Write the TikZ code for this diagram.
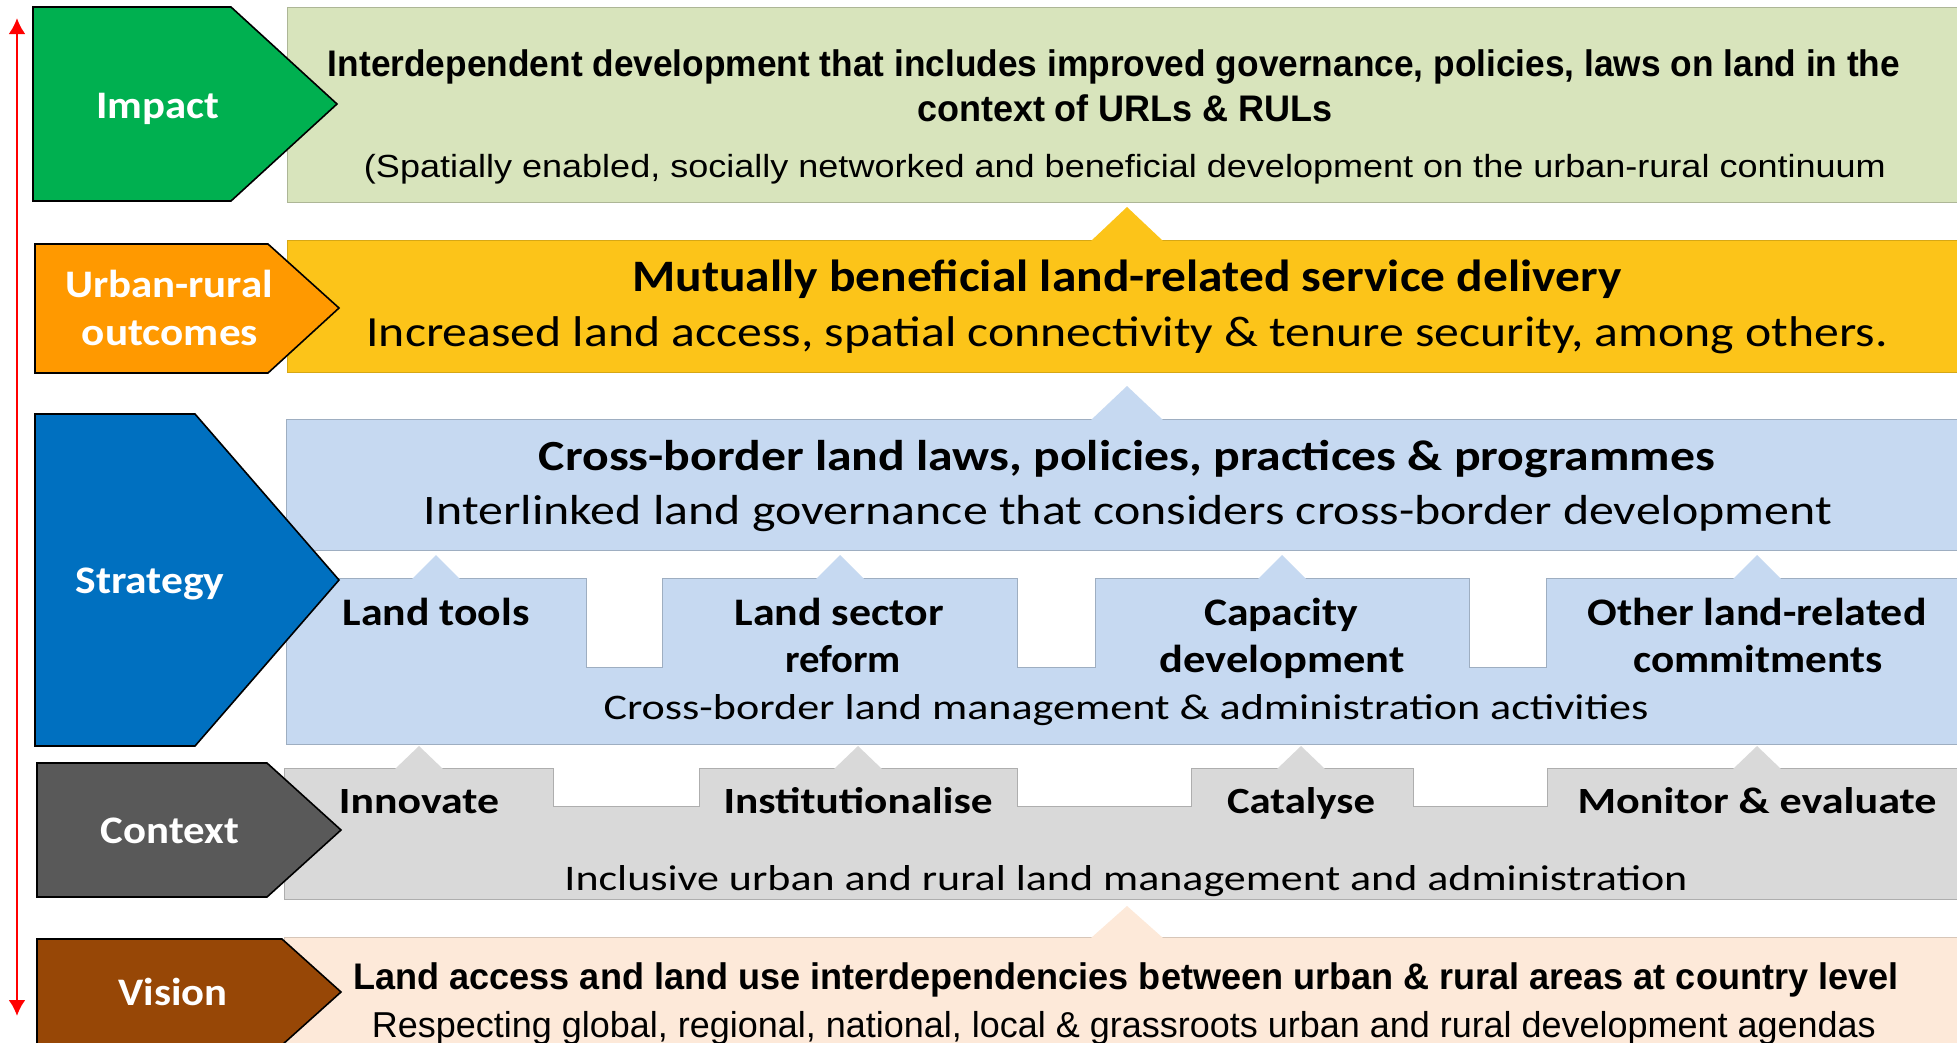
\documentclass[tikz,border=0pt]{standalone}
\usepackage{fontspec}
\usepackage{graphicx}
\usetikzlibrary{arrows.meta}
\setmainfont{Liberation Sans}
\newfontfamily\calfont{Carlito}
\newfontfamily\arlfont{Liberation Sans}
\newcommand{\fitw}[2]{\resizebox{#1pt}{\height}{#2}}
\newcommand{\calB}[1]{\calfont\bfseries\fontsize{#1}{#1}\selectfont}
\newcommand{\calR}[1]{\calfont\fontsize{#1}{#1}\selectfont}
\newcommand{\arlB}[1]{\arlfont\bfseries\fontsize{#1}{#1}\selectfont}
\newcommand{\arlR}[1]{\arlfont\fontsize{#1}{#1}\selectfont}
\definecolor{gImp}{HTML}{00B050}
\definecolor{oUR}{HTML}{FF9900}
\definecolor{bStr}{HTML}{0070C0}
\definecolor{gCtx}{HTML}{595959}
\definecolor{brVis}{HTML}{974706}
\definecolor{lGreen}{HTML}{D8E4BC}
\definecolor{lYellow}{HTML}{FCC419}
\definecolor{lBlue}{HTML}{C6D9F1}
\definecolor{lGray}{HTML}{D9D9D9}
\definecolor{lPeach}{HTML}{FDE9D9}
\tikzset{
  lbl/.style={text=white, inner sep=0pt, anchor=base},
  txt/.style={text=black, inner sep=0pt, anchor=base},
  pent/.style={draw=black, line width=1.6pt, line join=miter},
  band/.style={line width=1pt},
  redarrow/.style={draw=red, line width=2.6pt, {Latex[length=16pt,width=17pt]}-{Latex[length=16pt,width=17pt]}}
}
\begin{document}
\begin{tikzpicture}[x=1pt,y=-1pt]
\useasboundingbox (0,0) rectangle (1957,1042);
\fill[white] (0,0) rectangle (1957,1042);

% ---------- bands ----------
\draw[band, fill=lGreen, draw=lGreen!80!black] (287,7) rectangle (1962,202);
\draw[band, fill=lYellow, draw=lYellow!85!black] (287,240) rectangle (1962,372);
\fill[lYellow] (1091,241) -- (1127,207) -- (1163,241) -- cycle;
\draw[band, fill=lBlue, draw=lBlue!80!black] (286,419) rectangle (1962,550);
\fill[lBlue] (1091,420) -- (1127,386) -- (1163,420) -- cycle;
\draw[band, fill=lBlue, draw=lBlue!80!black]
  (286,578) -- (586,578) -- (586,667) -- (662,667) -- (662,578) -- (1017,578)
  -- (1017,667) -- (1095,667) -- (1095,578) -- (1469,578) -- (1469,667)
  -- (1546,667) -- (1546,578) -- (1962,578) -- (1962,744) -- (286,744) -- cycle;
\foreach \x in {436,840,1282,1757}
  \fill[lBlue] (\x-24,579) -- (\x,555) -- (\x+24,579) -- cycle;
\draw[band, fill=lGray, draw=lGray!80!black]
  (284,768) -- (553,768) -- (553,806) -- (699,806) -- (699,768) -- (1017,768)
  -- (1017,806) -- (1191,806) -- (1191,768) -- (1413,768) -- (1413,806)
  -- (1547,806) -- (1547,768) -- (1962,768) -- (1962,899) -- (284,899) -- cycle;
\foreach \x in {419,858,1301,1757}
  \fill[lGray] (\x-24,769) -- (\x,746) -- (\x+24,769) -- cycle;
\draw[band, fill=lPeach, draw=lPeach!85!black] (284,937) rectangle (1962,1050);
\fill[lPeach] (1091,938) -- (1127,906) -- (1163,938) -- cycle;

% ---------- left pentagons ----------
\draw[pent, fill=gImp] (33,7) -- (231,7) -- (337,104) -- (231,201) -- (33,201) -- cycle;
\draw[pent, fill=oUR] (35,244) -- (268,244) -- (339,308) -- (268,373) -- (35,373) -- cycle;
\draw[pent, fill=bStr] (35,414) -- (195,414) -- (339,580) -- (195,746) -- (35,746) -- cycle;
\draw[pent, fill=gCtx] (37,763) -- (267,763) -- (341,830) -- (267,897) -- (37,897) -- cycle;
\draw[pent, fill=brVis] (37,939) -- (282,939) -- (341,992) -- (282,1045) -- (37,1045) -- cycle;

\node[lbl, font=\calB{39}] (limpact) at (158,118) {\fitw{123}{Impact}};
\node[lbl, font=\calB{39}] (lurban) at (169,297) {\fitw{208}{Urban-rural}};
\node[lbl, font=\calB{39}] (lout) at (170,345) {\fitw{176}{outcomes}};
\node[lbl, font=\calB{39}] (lstrat) at (150,593) {\fitw{149}{Strategy}};
\node[lbl, font=\calB{39}] (lctx) at (170,843) {\fitw{138}{Context}};
\node[lbl, font=\calB{39}] (lvis) at (173,1005) {\fitw{109}{Vision}};

% ---------- impact texts ----------
\node[txt, font=\arlB{37}] (imp1) at (1114,76) {\fitw{1572}{Interdependent development that includes improved governance, policies, laws on land in the}};
\node[txt, font=\arlB{37}] (imp2) at (1125,121) {\fitw{416}{context of URLs \& RULs}};
\node[txt, font=\arlR{32}] (imp3) at (1125,177) {\fitw{1522}{(Spatially enabled, socially networked and beneficial development on the urban-rural continuum}};

% ---------- outcomes texts ----------
\node[txt, font=\calB{45}] (out1) at (1127,291) {\fitw{989}{Mutually beneficial land-related service delivery}};
\node[txt, font=\calR{43}] (out2) at (1127,346) {\fitw{1521}{Increased land access, spatial connectivity \& tenure security, among others.}};

% ---------- strategy texts ----------
\node[txt, font=\calB{43}] (str1) at (1127,470) {\fitw{1176}{Cross-border land laws, policies, practices \& programmes}};
\node[txt, font=\calR{42}] (str2) at (1128,524) {\fitw{1408}{Interlinked land governance that considers cross-border development}};
\node[txt, font=\calB{39}] (tab1) at (436,625) {\fitw{187}{Land tools}};
\node[txt, font=\calB{39}] (tab2a) at (839,625) {\fitw{209}{Land sector}};
\node[txt, font=\calB{39}] (tab2b) at (843,672) {\fitw{116}{reform}};
\node[txt, font=\calB{39}] (tab3a) at (1281,625) {\fitw{154}{Capacity}};
\node[txt, font=\calB{39}] (tab3b) at (1282,672) {\fitw{245}{development}};
\node[txt, font=\calB{39}] (tab4a) at (1757,625) {\fitw{339}{Other land-related}};
\node[txt, font=\calB{39}] (tab4b) at (1758,672) {\fitw{249}{commitments}};
\node[txt, font=\calR{36}] (str3) at (1126,719) {\fitw{1045}{Cross-border land management \& administration activities}};

% ---------- context texts ----------
\node[txt, font=\calB{37}] (ctx1) at (419,813) {\fitw{160}{Innovate}};
\node[txt, font=\calB{37}] (ctx2) at (858,813) {\fitw{269}{Institutionalise}};
\node[txt, font=\calB{37}] (ctx3) at (1301,813) {\fitw{148}{Catalyse}};
\node[txt, font=\calB{37}] (ctx4) at (1757,813) {\fitw{359}{Monitor \& evaluate}};
\node[txt, font=\calR{36}] (ctx5) at (1126,890) {\fitw{1123}{Inclusive urban and rural land management and administration}};

% ---------- vision texts ----------
\node[txt, font=\arlB{37}] (vis1) at (1126,989) {\fitw{1545}{Land access and land use interdependencies between urban \& rural areas at country level}};
\node[txt, font=\arlR{36}] (vis2) at (1124,1037) {\fitw{1504}{Respecting global, regional, national, local \& grassroots urban and rural development agendas}};

% ---------- red double arrow ----------
\coordinate (atop) at (17,18);
\coordinate (abot) at (17,1016);
\draw[redarrow] (atop) -- (abot);
\end{tikzpicture}
\end{document}
